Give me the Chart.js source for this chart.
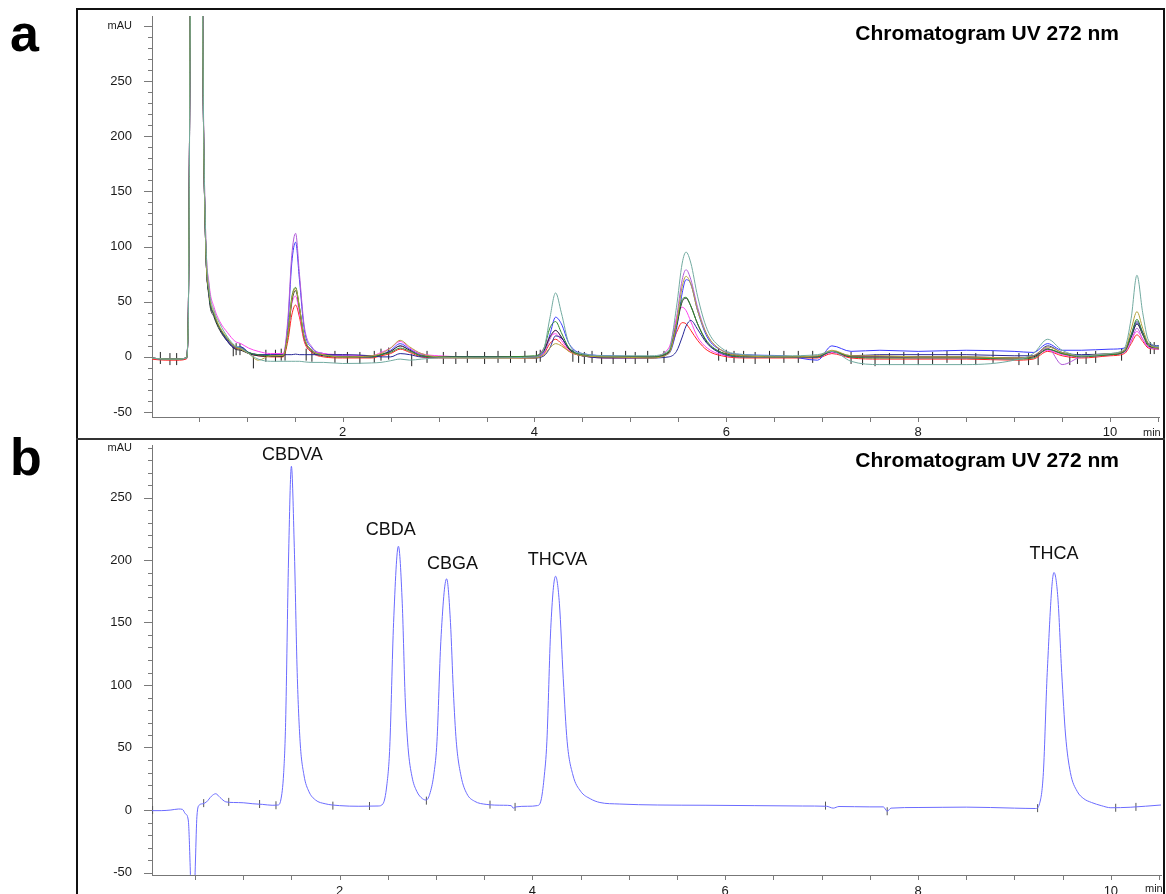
<!DOCTYPE html>
<html><head><meta charset="utf-8">
<script src="https://cdn.jsdelivr.net/npm/chart.js@4.4.0/dist/chart.umd.min.js"></script>
<style>
html,body{margin:0;padding:0;background:#fff;width:1166px;height:894px;overflow:hidden;position:relative;font-family:"Liberation Sans",Arial,sans-serif;}
canvas{position:absolute;}
#cA{left:77px;top:9px;width:1089px;height:430px;}
#cB{left:77px;top:440px;width:1089px;height:454px;}
#frame{position:absolute;left:76px;top:8px;width:1089px;height:1000px;border:2px solid #111;box-sizing:border-box;}
#sep{position:absolute;left:76px;top:438px;width:1089px;height:2px;background:#333;}
.panel{position:absolute;left:10px;font-weight:bold;font-size:52px;line-height:52px;color:#000;}
.title{position:absolute;right:47px;font-weight:bold;font-size:21px;line-height:24px;color:#000;white-space:nowrap;}
</style></head>
<body>
<canvas id="cA" width="1089" height="430"></canvas>
<canvas id="cB" width="1089" height="454"></canvas>
<div id="frame"></div>
<div id="sep"></div>
<div class="panel" style="top:7px">a</div>
<div class="panel" style="top:431px">b</div>
<div class="title" style="top:21px">Chromatogram UV 272 nm</div>
<div class="title" style="top:448px">Chromatogram UV 272 nm</div>
<script>
// ---------- Panel a: overlaid chromatograms ----------
const timesA = [0.00,0.15,0.30,0.37,0.39,0.41,0.43,0.52,0.545,0.57,0.61,0.66,0.72,
 0.80,0.88,0.94,1.02,1.12,1.25,1.38,
 1.43,1.47,1.51,1.55,1.60,1.68,1.80,2.00,2.30,2.40,2.50,2.60,2.70,2.82,3.00,3.50,4.00,
 4.10,4.16,4.22,4.28,4.36,4.50,4.80,5.20,
 5.40,5.48,5.54,5.58,5.63,5.70,5.80,5.95,6.20,6.60,6.95,7.10,7.30,7.60,8.00,8.50,9.00,9.20,9.35,9.50,9.70,10.00,
 10.15,10.22,10.28,10.34,10.40,10.51];

const tealA = [-1,-2,-2,-1,25,290,700,700,270,120,62,42,30,
 18,10,8,3,-2,-4,-4,
 -4,-4,-4,-4,-4.5,-5,-5,-6,-5.5,-5,-3.5,-2,-3,-2,-1,-1,0,
 8,35,58,40,12,3,1,1,
 6,45,85,95,85,55,25,8,2,1,2,5,-4,-7,-7,-7,-3,3,16,6,1,3,
 8,35,74,40,15,9];
const blueA = [-1,-2,-2,-1,30,300,700,700,260,110,55,38,26,
 15,9,9,4,2,1.5,1.5,
 30,85,104,70,25,8,3,1,0,2,6,12,7,2,0,0,0,
 5,20,36,30,12,3,1,0,
 3,25,58,70,66,42,18,6,2,1,-3,10,5,6,5,6,5,4,12,6,6,7,
 8,18,30,22,12,9];
const purpleA = [-1,-2,-2,-1,30,300,700,700,260,110,55,38,26,
 16,9,8,4,2,1.5,2,
 35,92,112,75,28,9,3,1,0,2,5,10,6,2,0,0,0,
 4,16,24,18,7,2,0,0,
 4,35,70,79,70,45,20,6,1,0,1,5,0,0,0,-1,-2,1,8,-7,0,2,
 4,14,26,16,9,7];
const oliveA = [-1,-2,-2,-1,30,300,700,700,260,110,58,40,27,
 17,9,7,3,-3,1,1.5,
 20,52,62,45,18,6,2,0,1,3,8,15,9,3,0,-1,-1,
 2,8,12,10,5,1,0,-1,
 3,30,64,73,66,42,20,6,1,0,1,6,1,1,0,0,-1,1,9,4,1,3,
 6,25,41,26,12,8];
const greenA = [-1,-2,-2,-1,30,300,700,700,260,110,55,38,26,
 16,9,8,4,2,1,1,
 22,54,63,45,18,6,2,0,0,2,4,8,5,1,0,0,1,
 8,26,32,22,8,2,0,0,
 5,30,52,54,46,30,14,4,0,0,0,5,0,-1,-1,-1,-2,-1,7,3,0,2,
 5,20,34,22,11,8];
const blackA = [-1,-2,-2,-1,30,300,700,700,260,110,52,36,24,
 14,7,6,3,1,0.5,0.5,
 20,50,60,44,17,5,1,0,0,2,5,10,6,1,0,0,0,
 6,18,24,18,7,1,0,0,
 4,28,50,53,46,30,13,4,1,0,0,5,0,0,0,0,-1,0,7,3,1,2,
 5,18,30,20,10,8];
const redA = [-2,-3,-3,-2,30,300,700,700,260,110,55,38,26,
 15,8,7,3,1,0,0,
 15,38,47,36,14,4,0,-1,-1,1,3,7,4,0,-1,-1,-1,
 3,12,16,12,5,1,-1,-1,
 4,22,31,30,24,15,6,1,-1,-1,-1,3,-1,-2,-2,-2,-3,-2,5,1,-1,1,
 3,12,20,14,8,7];
const magentaA = [-1,-2,-2,-1,30,300,700,700,270,120,65,45,32,
 22,14,12,8,5,3,3,
 22,48,55,40,16,6,3,2,1,4,8,14,8,3,1,0,0,
 8,18,21,15,6,1,0,0,
 8,35,45,42,32,18,8,2,0,0,0,4,0,0,-1,-1,-1,0,6,2,0,2,
 5,15,23,16,9,8];
const navyA = [-1,-2,-2,-1,30,300,700,700,260,110,55,38,26,
 14,8,9,4,2,2,2,
 2,2,2.5,2,2,2,2,2,1,0,0,3,2,0,0,0,-1,
 1,8,19,17,8,1,-1,-1,
 0,5,18,28,33,25,12,3,0,0,0,5,1,2,2,2,1,1,10,4,2,3,
 6,20,32,22,12,10];

// integration event marks (panel a)
const markTimesA = [0.10,0.20,0.27,0.86,0.89,0.93,1.07,1.20,1.30,1.36,1.40,1.62,1.68,1.92,2.05,2.18,2.33,2.40,2.48,2.72,
 2.88,3.05,3.18,3.30,3.48,3.62,3.75,3.90,4.02,4.06,4.40,4.46,4.52,4.60,4.70,4.82,4.95,5.05,5.18,5.35,
 5.92,6.00,6.08,6.18,6.30,6.45,6.60,6.75,6.90,7.30,7.42,7.55,7.70,7.85,8.00,8.15,8.30,8.45,8.60,8.78,
 9.05,9.15,9.25,9.58,9.66,9.75,9.85,10.12,10.42,10.46];
const markValsA = [-1,-2,-2,6,7,7,-5,1,1,2,2,2,1,0,-1,-1,0,2,3,-3,
 0,-1,-1,0,-1,0,0,0,0,1,1,0,-1,0,-1,-1,0,-1,0,0,
 2,1,0,0,-1,0,0,0,0,-1,-2,-3,-2,-1,-2,-1,0,-1,-2,0,
 -2,-2,-2,-2,-1,-1,0,2,8,8];

// ---------- Panel b: standard mix ----------
const timesB = [0.054,0.15,0.25,0.33,0.37,0.40,0.43,0.45,0.47,0.49,0.505,0.52,0.545,0.58,0.62,0.67,0.715,0.76,0.82,0.9,
 1.0,1.1,1.2,1.3,1.36,1.39,1.42,1.44,1.47,1.50,1.53,1.56,1.59,1.63,1.68,1.75,1.85,2.0,2.2,2.4,
 2.45,2.49,2.52,2.56,2.61,2.65,2.68,2.71,2.75,2.8,2.86,2.9,2.94,2.98,3.01,3.05,3.11,3.15,3.18,3.21,
 3.26,3.32,3.4,3.52,3.7,3.78,3.8,3.83,3.95,4.05,4.09,4.12,4.15,4.19,4.24,4.28,4.32,4.36,4.42,4.5,
 4.6,4.7,4.9,5.3,5.8,6.3,6.8,7.05,7.12,7.18,7.5,7.64,7.68,7.72,8.0,8.5,9.0,9.22,9.26,9.3,
 9.34,9.41,9.45,9.49,9.53,9.58,9.65,9.72,9.8,9.9,10.0,10.2,10.52];
const signalB = [-0.5,-0.5,0,0.8,0.5,-3,-8,-45,-100,-80,-40,-5,4,5,6.5,11,13,10,6.5,6,
 5.8,5,4.5,3.8,4,8,30,70,200,275,210,110,55,28,15,8,5,3.5,3,3.2,
 5,20,50,150,211,165,90,50,27,15,9,8,14,30,55,135,185,150,95,55,
 27,13,7,4.5,3.8,3.5,1.5,2.5,3,3.5,8,25,55,145,187,165,105,55,28,15,
 9,6,4.8,4,3.8,3.5,3.2,3,1.5,2.8,2.5,2.5,-1,1.5,2,2.3,1.5,1.2,5,30,
 110,190,170,110,60,30,15,9,6,3.5,1.8,2.2,4];
const markTimesB = [0.06,0.59,0.85,1.17,1.34,1.93,2.31,2.90,3.56,3.82,7.04,7.68,9.24,10.05,10.26];
const markValsB = [0,5.5,6.5,4.8,3.8,3.5,3.2,7.5,4.3,2.5,3.5,-1,1.5,1.8,2.5];

const peakNames = ['CBDVA','CBDA','CBGA','THCVA','THCA'];
const peakLabelTimes = [1.51,2.53,3.17,4.26,9.41];
const peakLabelLevels = [280,220,193,196,201];

// ---------- axis tick values ----------
const xLabelValues = [2,4,6,8,10];
const yMajorValues = [-50,0,50,100,150,200,250];
const unitTickA = 300, unitTickB = 290;

// ---------- helpers ----------
const FONT = '"Liberation Sans", Arial, sans-serif';
const pts = (ts, vs) => ts.map((t,i)=>({x:t,y:vs[i]}));

const tickPlugin = {
  id:'axisTicks',
  afterDraw(chart, args, opts){
    const ctx = chart.ctx, xs = chart.scales.x, ys = chart.scales.y;
    ctx.save();
    ctx.strokeStyle = '#7a7a7a'; ctx.lineWidth = 1;
    ctx.beginPath();
    ys.ticks.forEach(t=>{
      if (t.value < ys.min || t.value > ys.max) return;
      const p = Math.round(ys.getPixelForValue(t.value)) + 0.5;
      const L = (t.value % 50 === 0) ? 8 : 4;
      ctx.moveTo(ys.right - L, p); ctx.lineTo(ys.right, p);
    });
    xs.ticks.forEach(t=>{
      if (t.value < xs.min || t.value > xs.max) return;
      const p = Math.round(xs.getPixelForValue(t.value)) + 0.5;
      ctx.moveTo(p, xs.top); ctx.lineTo(p, xs.top + 5);
    });
    ctx.stroke();
    ctx.fillStyle = '#222'; ctx.font = '11px ' + FONT;
    ctx.textAlign = 'left'; ctx.textBaseline = 'middle';
    ctx.fillText('min', xs.right - 16, xs.top + opts.minOffset);
    ctx.restore();
  }
};

const peakLabelPlugin = {
  id:'peakLabels',
  afterDatasetsDraw(chart){
    const ctx = chart.ctx, xs = chart.scales.x, ys = chart.scales.y;
    ctx.save();
    ctx.fillStyle = '#111'; ctx.font = '18px ' + FONT;
    ctx.textAlign = 'center'; ctx.textBaseline = 'alphabetic';
    peakNames.forEach((n,i)=>{
      ctx.fillText(n, xs.getPixelForValue(peakLabelTimes[i]), ys.getPixelForValue(peakLabelLevels[i]));
    });
    ctx.restore();
  }
};

function makeOptions(cfg){
  return {
    responsive:false, animation:false, maintainAspectRatio:false,
    layout:{padding:{top:cfg.padTop,right:3,left:0,bottom:0}},
    plugins:{legend:{display:false}, tooltip:{enabled:false}, axisTicks:{minOffset:cfg.minOffset}},
    elements:{point:{radius:0}, line:{borderWidth:1, tension:0.4, cubicInterpolationMode:'monotone'}},
    scales:{
      x:{type:'linear', min:cfg.xmin, max:cfg.xmax,
        grid:{display:false}, border:{display:true,color:'#777',width:1},
        ticks:{stepSize:0.5, includeBounds:false, autoSkip:false, maxRotation:0, padding:cfg.xPad,
          color:'#1a1a1a', font:{family:FONT,size:13},
          callback:(v)=> xLabelValues.includes(v) ? String(v) : ''},
        afterFit:(s)=>{ s.height = cfg.xH; s.paddingLeft = 0; s.paddingRight = 0; }
      },
      y:{type:'linear', min:cfg.ymin, max:cfg.ymax,
        grid:{display:false}, border:{display:true,color:'#777',width:1},
        ticks:{stepSize:10, includeBounds:false, autoSkip:false, padding:12, color:'#1a1a1a',
          font:(c)=>({family:FONT, size:(c.tick && c.tick.value===cfg.unitTick) ? 11 : 13}),
          callback:(v)=> v===cfg.unitTick ? 'mAU' : (yMajorValues.includes(v) ? String(v) : '')},
        afterFit:(s)=>{ s.width = 75; s.paddingTop = 0; s.paddingBottom = 0; }
      }
    }
  };
}

const lineDs = (label, color, vals) => ({type:'line', label, data:pts(timesA, vals), borderColor:color, borderWidth:1, pointRadius:0, fill:false});

new Chart(document.getElementById('cA'), {
  type:'line',
  data:{datasets:[
    lineDs('teal','#72aaa0',tealA),
    lineDs('olive','#b3a23a',oliveA),
    lineDs('green','#2f8a2f',greenA),
    lineDs('navy','#262696',navyA),
    lineDs('black','#2a2a2a',blackA),
    lineDs('magenta','#ff44ee',magentaA),
    lineDs('purple','#b05ad8',purpleA),
    lineDs('blue','#3a3aff',blueA),
    lineDs('red','#ff2222',redA),
    {type:'scatter', label:'events', data:pts(markTimesA, markValsA), showLine:false,
      pointStyle:'line', rotation:90, pointRadius:6, borderColor:'#222', borderWidth:1}
  ]},
  options: makeOptions({padTop:1, xH:22, xPad:0, minOffset:16, xmin:0.013, xmax:10.51, ymin:-54.5, ymax:309, unitTick:unitTickA}),
  plugins:[tickPlugin]
});

new Chart(document.getElementById('cB'), {
  type:'line',
  data:{datasets:[
    {type:'line', label:'standard', data:pts(timesB, signalB), borderColor:'#6b6bff', borderWidth:1, pointRadius:0, fill:false},
    {type:'scatter', label:'events', data:pts(markTimesB, markValsB), showLine:false,
      pointStyle:'line', rotation:90, pointRadius:4, borderColor:'#555', borderWidth:1}
  ]},
  options: makeOptions({padTop:5, xH:19, xPad:1, minOffset:14, xmin:0.054, xmax:10.52, ymin:-52, ymax:292, unitTick:unitTickB}),
  plugins:[tickPlugin, peakLabelPlugin]
});
</script>
</body></html>
